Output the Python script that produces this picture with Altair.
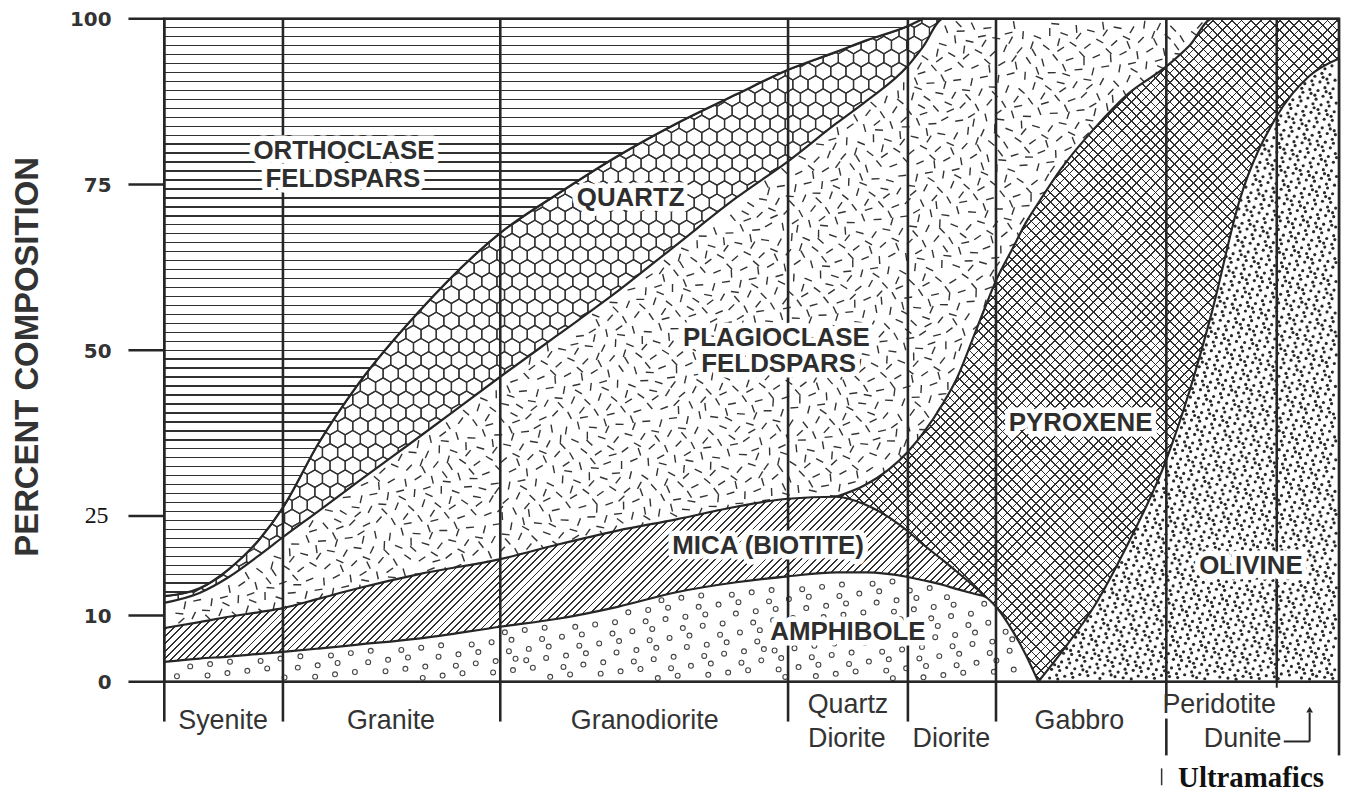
import altair as alt
import numpy as np
import pandas as pd

alt.data_transformers.disable_max_rows()

# ------------------------------------------------------------------
# Data
# x: position along the rock series, 0 = left edge (Syenite) .. 100 = right edge (Dunite)
# y: cumulative percent composition = upper boundary of each mineral field
# ------------------------------------------------------------------
position = [0, 3.0, 5.5, 8.1, 10.1, 13.1, 16.5, 21.6, 28.6, 33.5, 38.6, 43.6,
            48.7, 53.1, 57.2, 59.7, 63.3, 64.6, 66.3, 67.4, 69.1, 69.9, 70.8,
            72.2, 73.3, 74.4, 76.4, 79.2, 82.0, 85.3, 87.3, 89.2, 91.5, 94.7,
            97.5, 100]

amphibole_top = [3.0, 3.5, 3.8, 4.2, 4.5, 5.0, 5.6, 6.5, 8.3, 9.5, 11.3, 13.5,
                 15.0, 15.9, 16.5, 16.5, 15.8, 15.3, 14.6, 14.0, 13.2, 12.8, 11.3,
                 7.7, 4.2, 0.0, None, None, None, None, None, None, None, None,
                 None, None]
mica_top = [8.1, 9.0, 9.8, 10.5, 11.1, 12.5, 14.1, 16.2, 18.5, 20.7, 22.8, 24.5,
            26.4, 27.6, 27.9, 26.7, 22.7, 20.7, 18.3, 16.7, 14.1, 12.8, None,
            None, None, None, None, None, None, None, None, None, None, None,
            None, None]
plagioclase_top = [11.9, 13.4, 15.8, 19.1, 21.8, 25.7, 30.2, 36.8, 46.0, 52.3,
                   58.9, 65.9, 73.0, 78.5, 84.2, 87.5, 92.9, 95.8, 100, 100, 100,
                   100, 100, 100, 100, 100, 100, 100, 100, 100, 100, 100, None,
                   None, None, None]
quartz_top = [12.9, 14.1, 17.0, 21.5, 26.3, 35.9, 44.9, 55.7, 67.7, 73.6, 79.3,
              84.2, 88.6, 92.3, 95.0, 96.7, 98.9, 100, 100, None, None, None,
              None, None, None, None, None, None, None, None, None, None, None,
              None, None, None]
pyroxene_top = [None, None, None, None, None, None, None, None, None, None, None,
                None, None, None, 27.9, 29.7, 34.7, 37.5, 42.0, 45.5, 53.0, 56.6,
                60.5, 65.3, 69.1, 72.2, 77.5, 83.5, 88.6, 92.8, 96.0, 100, 100,
                100, 100, 100]
olivine_top = [None, None, None, None, None, None, None, None, None, None, None,
               None, None, None, None, None, None, None, None, None, None, None,
               None, None, None, 0.0, 4.5, 11.5, 20.7, 33.5, 44.0, 55.9, 72.4,
               85.3, 91.4, 94.0]

rock_edges = [0, 10.1, 28.6, 53.1, 63.3, 70.8, 85.3, 94.7, 100]
rock_names_mid = ["Syenite", "Granite", "Granodiorite", "Gabbro"]
rock_pos_mid = [5.0, 19.3, 40.9, 77.9]
rock_names_top = ["Quartz", "Peridotite"]
rock_pos_top = [58.2, 89.8]
rock_names_low = ["Diorite", "Diorite", "Dunite"]
rock_pos_low = [58.1, 67.0, 91.8]
group_name = "Ultramafics"
group_pos = 86.3
group_bar_pos = 84.9
dunite_arrow_from = 95.3
dunite_arrow_to = 97.5

mineral_names = ["ORTHOCLASE", "FELDSPARS", "QUARTZ", "PLAGIOCLASE", "FELDSPARS",
                 "MICA (BIOTITE)", "AMPHIBOLE", "PYROXENE", "OLIVINE"]
mineral_x = [15.3, 15.2, 39.7, 52.1, 52.3, 51.4, 58.2, 78.0, 92.5]
mineral_y = [80.0, 75.8, 73.0, 51.8, 47.9, 20.4, 7.5, 39.0, 17.4]

y_ticks = [0, 10, 25, 50, 75, 100]
y_tick_labels = ["0", "10", "25", "50", "75", "100"]
y_title = "PERCENT COMPOSITION"

# ------------------------------------------------------------------
# Layout / style
# ------------------------------------------------------------------
W, H = 1180, 666
INK = "#262626"
TXT = "#2e2e2e"
xs = alt.Scale(domain=[0, 100], nice=False, zero=False)
ys = alt.Scale(domain=[0, 100], nice=False, zero=False)

pos = np.array(position, float)


def px_of(u):
    return np.asarray(u, float) / 100.0 * W


def py_of(v):
    return (100.0 - np.asarray(v, float)) / 100.0 * H


def valid(vals):
    arr = np.array([np.nan if v is None else v for v in vals], float)
    m = ~np.isnan(arr)
    return pos[m], arr[m]


def monotone(us, vs):
    """Same monotone-x cubic that Vega draws, evaluated in pixel space."""
    x = px_of(us)
    y = py_of(vs)
    n = len(x)
    t = np.zeros(n)

    def sg(a):
        return -1.0 if a < 0 else 1.0

    for i in range(1, n - 1):
        h0 = x[i] - x[i - 1]
        h1 = x[i + 1] - x[i]
        s0 = (y[i] - y[i - 1]) / h0
        s1 = (y[i + 1] - y[i]) / h1
        p = (s0 * h1 + s1 * h0) / (h0 + h1)
        t[i] = (sg(s0) + sg(s1)) * min(abs(s0), abs(s1), 0.5 * abs(p))
    t[0] = (3 * (y[1] - y[0]) / (x[1] - x[0]) - t[1]) / 2
    t[-1] = (3 * (y[-1] - y[-2]) / (x[-1] - x[-2]) - t[-2]) / 2

    def f(q):
        q = np.asarray(q, float)
        i = np.clip(np.searchsorted(x, q) - 1, 0, n - 2)
        h = x[i + 1] - x[i]
        s = (q - x[i]) / h
        yy = ((2 * s**3 - 3 * s**2 + 1) * y[i] + (s**3 - 2 * s**2 + s) * h * t[i]
              + (-2 * s**3 + 3 * s**2) * y[i + 1] + (s**3 - s**2) * h * t[i + 1])
        return np.where((q < x[0] - 1e-9) | (q > x[-1] + 1e-9), np.nan, yy)

    return f


fA = monotone(*valid(amphibole_top))
fM = monotone(*valid(mica_top))
fP = monotone(*valid(plagioclase_top))
fQ = monotone(*valid(quartz_top))
fX = monotone(*valid(pyroxene_top))
fO = monotone(*valid(olivine_top))

# ---------------- texture generation (decoration only) ----------------
GR = 1.32471795724474602596


def r2(n, seed):
    k = np.arange(1, n + 1)
    return (seed + k / GR) % 1.0, (seed + k / GR**2) % 1.0, k


def to_df(px, py, extra=None):
    d = {"u": np.round(px / W * 100, 3), "v": np.round(100 - py / H * 100, 3)}
    if extra:
        d.update(extra)
    return pd.DataFrame(d)


# plagioclase dashes
side = float(W)
a, b, k = r2(int(side * side / 140), 0.31)
px, py = a * side, b * side
top = fP(px)
low = np.fmin(fM(px), fX(px))
keep = (py > top + 5) & (py < low + 2) & (px > 4) & (px < px_of(89.2))
ang = ((k * 0.61803398875 + 0.5 * ((k * 0.41421356) % 1)) % 1.0) * 180
plag_df = to_df(px[keep], py[keep], {"a": np.round(ang[keep], 1)})

# olivine dots
ox0 = float(px_of(74.4))
a, b, k = r2(int(666 * 666 / 38), 0.77)
px, py = ox0 + a * 666, b * 666
keep = (px > ox0) & (px < W - 2.5) & (py > fO(np.clip(px, ox0, W)) + 3) & (py < H - 2.5)
oliv_df = to_df(px[keep], py[keep])

# amphibole circles
aside = float(px_of(74.4))
a, b, k = r2(int(aside * aside / 230), 0.13)
px, py = a * aside, 540 + b * aside
keep = (px > 4) & (py > fA(px) + 4) & (py < H - 3.5)
amph_df = to_df(px[keep], py[keep])

# quartz honeycomb
R = 8.8
hx, hy = [], []
xmax = float(px_of(66.3))
for r, yy in enumerate(np.arange(0, H + R, 1.5 * R)):
    off = np.sqrt(3) * R / 2 if r % 2 else 0.0
    xx = np.arange(-R, xmax + 2 * R, np.sqrt(3) * R) + off
    xc = np.clip(xx, 0, xmax)
    ok = (yy > fQ(xc) - R * 0.9) & (yy < fP(xc) + R * 0.9)
    hx += list(xx[ok])
    hy += [yy] * int(ok.sum())
quartz_df = to_df(np.array(hx), np.array(hy))


# ---------------- gradient stripes ----------------
def stripes(total, period, width, dark, light, phase=0.0):
    st = [alt.GradientStop(color=light, offset=0)]
    c = phase
    while c < total:
        a0 = round(c / total, 5)
        b0 = round(min((c + width) / total, 1.0), 5)
        st += [alt.GradientStop(color=light, offset=a0),
               alt.GradientStop(color=dark, offset=a0),
               alt.GradientStop(color=dark, offset=b0),
               alt.GradientStop(color=light, offset=b0)]
        c += period
    st.append(alt.GradientStop(color=light, offset=1))
    return st


def diag_up(Wb, Hb, spacing, width, dark="#303030", light="white"):
    k = (Wb + Hb) / (Wb**2 + Hb**2)
    return alt.LinearGradient(gradient="linear",
                              stops=stripes(Wb + Hb, spacing, width * 1.414, dark, light, spacing / 2),
                              x1=0, y1=0, x2=round(Wb * k, 5), y2=round(Hb * k, 5))


def diag_down(Wb, Hb, spacing, width, dark="#303030", light="rgba(255,255,255,0)"):
    k = (Wb + Hb) / (Wb**2 + Hb**2)
    return alt.LinearGradient(gradient="linear",
                              stops=stripes(Wb + Hb, spacing, width * 1.414, dark, light, spacing / 2),
                              x1=0, y1=1, x2=round(Wb * k, 5), y2=round(1 - Hb * k, 5))


qx, qv = valid(quartz_top)
orth_h = float(py_of(min(qv[qx <= 64.6])))
orth_grad = alt.LinearGradient(gradient="linear",
                               stops=stripes(orth_h, 9.0, 1.4, "#303030", "white", 8.3),
                               x1=0, y1=0, x2=0, y2=1)
mx, mv = valid(mica_top)
mica_W = float(px_of(mx.max()) - px_of(mx.min()))
mica_H = float(H - py_of(mv.max()))
mica_grad = diag_up(mica_W, mica_H, 7.2, 1.35)
xx_, xv_ = valid(pyroxene_top)
pyx_W = float(px_of(xx_.max()) - px_of(xx_.min()))
pyx_H = float(H - py_of(xv_.max()))
pyx_grad1 = diag_up(pyx_W, pyx_H, 9.6, 1.25)
pyx_grad2 = diag_down(pyx_W, pyx_H, 9.6, 1.25)


def region(hi_vals, lo_vals=None):
    u, hi = valid(hi_vals)
    if lo_vals is None:
        lo = np.zeros_like(hi)
    else:
        lo = np.array(lo_vals, float)
    return pd.DataFrame({"pos": u, "hi": hi, "lo": lo})


orth_df = region([100 if q is not None and i <= 17 else None for i, q in enumerate(quartz_top)],
                 [q for i, q in enumerate(quartz_top) if q is not None and i <= 17])


def area(df, fill, stroke=True):
    kw = dict(interpolate="monotone", fill=fill, opacity=1, strokeJoin="round")
    if stroke:
        kw.update(stroke=INK, strokeWidth=2.2)
    return alt.Chart(df).mark_area(**kw).encode(
        x=alt.X("pos:Q", scale=xs, axis=None),
        y=alt.Y("hi:Q", scale=ys, axis=None),
        y2=alt.Y2("lo"))


def pts(df):
    return alt.Chart(df).encode(x=alt.X("u:Q", scale=xs, axis=None),
                                y=alt.Y("v:Q", scale=ys, axis=None))


def xfield(name="u"):
    return alt.X(f"{name}:Q", scale=xs, axis=None)


HEX = "M0,-1L0.866,-0.5L0.866,0.5L0,1L-0.866,0.5L-0.866,-0.5Z"

layers = [
    area(region(quartz_top), "white"),
    pts(quartz_df).mark_point(shape=HEX, size=round((2 * R) ** 2, 1), filled=False,
                              stroke="#333", strokeWidth=1.3, opacity=1, clip=True),
    area(orth_df, orth_grad),
    area(region(plagioclase_top), "white"),
    pts(plag_df).mark_point(shape="stroke", size=64, stroke="#333", strokeWidth=1.4,
                            opacity=1).encode(angle=alt.Angle("a:Q", scale=None)),
    area(region(pyroxene_top), pyx_grad1),
    area(region(pyroxene_top), pyx_grad2, stroke=False),
    area(region(mica_top), mica_grad),
    area(region(amphibole_top), "white"),
    pts(amph_df).mark_point(shape="circle", size=24, filled=False, stroke="#444",
                            strokeWidth=1.1, opacity=1),
    area(region(olivine_top), "white"),
    pts(oliv_df).mark_point(shape="circle", size=10, filled=True, fill="#2a2a2a",
                            strokeWidth=0, opacity=1),
]

# rock-field dividers inside the plot
sep_df = pd.DataFrame({"u": rock_edges[1:-1]})
layers.append(alt.Chart(sep_df).mark_rule(color=INK, strokeWidth=2.6).encode(
    x=xfield(), y=alt.value(0), y2=alt.value(H)))

# dividers below the plot (rock-name boxes)
below_df = pd.DataFrame({"u": rock_edges[:6]})
layers.append(alt.Chart(below_df).mark_rule(color=INK, strokeWidth=2.6).encode(
    x=xfield(), y=alt.value(H), y2=alt.value(H + 40)))
per_df = pd.DataFrame({"u": [rock_edges[6]]})
layers.append(alt.Chart(per_df).mark_rule(color=INK, strokeWidth=2.6).encode(
    x=xfield(), y=alt.value(H), y2=alt.value(H + 24)))
layers.append(alt.Chart(per_df).mark_rule(color=INK, strokeWidth=2.6).encode(
    x=xfield(), y=alt.value(H + 37), y2=alt.value(H + 74)))
end_df = pd.DataFrame({"u": [rock_edges[8]]})
layers.append(alt.Chart(end_df).mark_rule(color=INK, strokeWidth=2.6).encode(
    x=xfield(), y=alt.value(H), y2=alt.value(H + 74)))
dun_df = pd.DataFrame({"u": [rock_edges[7]]})
layers.append(alt.Chart(dun_df).mark_rule(color=INK, strokeWidth=2.0).encode(
    x=xfield(), y=alt.value(H), y2=alt.value(H + 6)))

# mineral labels with white halo
lab_df = pd.DataFrame({"name": mineral_names, "u": mineral_x, "v": mineral_y})
lab_font = dict(font="Liberation Sans", fontSize=26, fontWeight="bold",
                align="center", baseline="middle")
layers.append(alt.Chart(lab_df).mark_text(fill="white", stroke="white", strokeWidth=11,
                                          strokeJoin="round", **lab_font).encode(
    x=xfield(), y=alt.Y("v:Q", scale=ys, axis=None), text="name:N"))
layers.append(alt.Chart(lab_df).mark_text(fill=TXT, **lab_font).encode(
    x=xfield(), y=alt.Y("v:Q", scale=ys, axis=None), text="name:N"))

# rock names below the plot
rock_font = dict(font="Liberation Sans", fontSize=27, fill="#333",
                 align="center", baseline="middle")
for names, xs_, ypx in [(rock_names_mid, rock_pos_mid, H + 39),
                        (rock_names_top, rock_pos_top, H + 23),
                        (rock_names_low, rock_pos_low, H + 58)]:
    d = pd.DataFrame({"name": names, "u": xs_})
    layers.append(alt.Chart(d).mark_text(**rock_font).encode(
        x=xfield(), y=alt.value(ypx), text="name:N"))

# Dunite arrow
arr_df = pd.DataFrame({"u": [dunite_arrow_from], "u2": [dunite_arrow_to]})
layers.append(alt.Chart(arr_df).mark_rule(color=INK, strokeWidth=2.0).encode(
    x=xfield(), x2=alt.X2("u2"), y=alt.value(H + 60)))
tip_df = pd.DataFrame({"u": [dunite_arrow_to]})
layers.append(alt.Chart(tip_df).mark_rule(color=INK, strokeWidth=2.0).encode(
    x=xfield(), y=alt.value(H + 60), y2=alt.value(H + 31)))
layers.append(alt.Chart(tip_df).mark_point(shape="triangle-up", size=45, filled=True,
                                           fill=INK, opacity=1).encode(
    x=xfield(), y=alt.value(H + 28)))

# Ultramafics
bar_df = pd.DataFrame({"u": [group_bar_pos]})
layers.append(alt.Chart(bar_df).mark_rule(color="#333", strokeWidth=1.5).encode(
    x=xfield(), y=alt.value(H + 87), y2=alt.value(H + 104)))
grp_df = pd.DataFrame({"u": [group_pos], "name": [group_name]})
layers.append(alt.Chart(grp_df).mark_text(font="Liberation Serif", fontSize=29,
                                          fontWeight="bold", fill="#111", align="left",
                                          baseline="alphabetic").encode(
    x=xfield(), y=alt.value(H + 106), text="name:N"))

# y axis: ticks, labels, title
tick_df = pd.DataFrame({"t": y_ticks, "lab": y_tick_labels})
layers.append(alt.Chart(tick_df).mark_rule(color=INK, strokeWidth=2.6).encode(
    y=alt.Y("t:Q", scale=ys, axis=None), x=alt.value(-36), x2=alt.value(0)))
sans_ticks = tick_df[tick_df["t"] != 25].reset_index(drop=True)
serif_ticks = tick_df[tick_df["t"] == 25].reset_index(drop=True)
layers.append(alt.Chart(sans_ticks).mark_text(font="DejaVu Sans", fontSize=20,
                                              fontWeight="bold", fill="#333", dy=1.5,
                                              align="right", baseline="middle").encode(
    y=alt.Y("t:Q", scale=ys, axis=None), x=alt.value(-53), text="lab:N"))
layers.append(alt.Chart(serif_ticks).mark_text(font="Liberation Serif", fontSize=24,
                                               fill="#111", align="right",
                                               baseline="middle").encode(
    y=alt.Y("t:Q", scale=ys, axis=None), x=alt.value(-56), text="lab:N"))
ttl_df = pd.DataFrame({"t": [49], "name": [y_title]})
layers.append(alt.Chart(ttl_df).mark_text(font="Liberation Sans", fontSize=33,
                                          fontWeight="bold", fill="#333", angle=270,
                                          align="center", baseline="middle").encode(
    x=alt.value(-137), y=alt.Y("t:Q", scale=ys, axis=None), text="name:N"))

# frame
frame_df = pd.DataFrame({"u": [0], "u2": [100]})
layers.append(alt.Chart(frame_df).mark_rect(filled=False, fillOpacity=0, stroke=INK,
                                            strokeWidth=2.6).encode(
    x=xfield(), x2=alt.X2("u2"), y=alt.value(0), y2=alt.value(H)))

chart = alt.layer(*layers).properties(
    width=W, height=H,
    padding={"left": 157, "top": 9, "right": 3, "bottom": 113},
    autosize=alt.AutoSizeParams(type="none"),
    background="white",
).configure_view(stroke="transparent")

chart.save("out.html", embed_options={"renderer": "svg", "actions": False})
